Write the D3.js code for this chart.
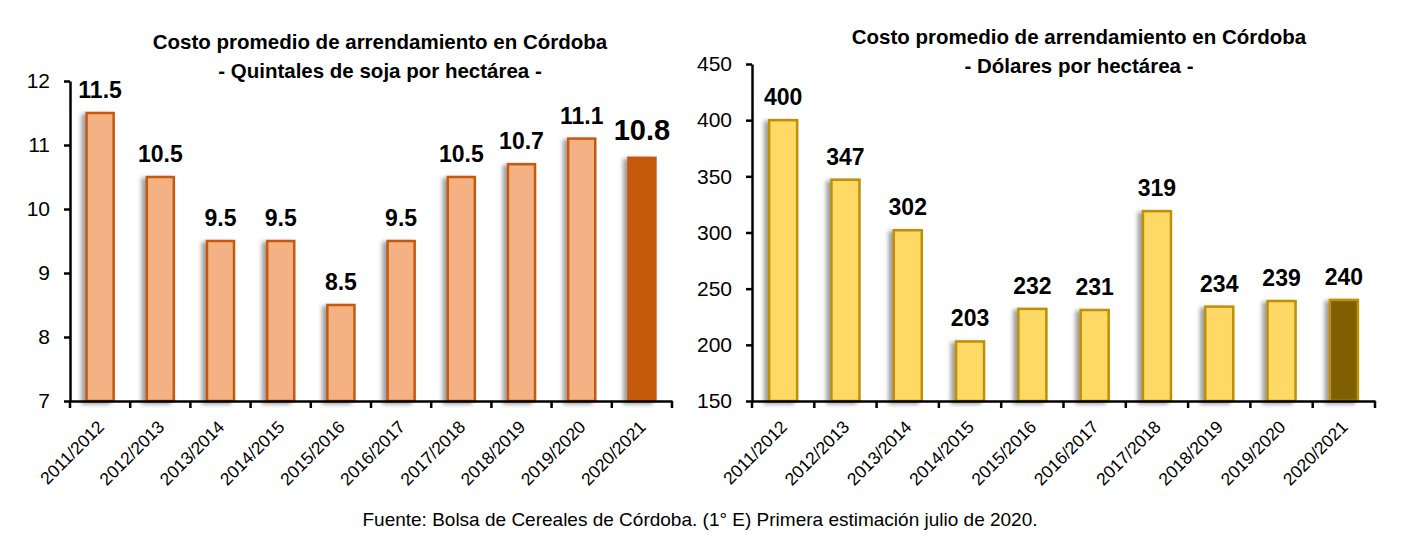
<!DOCTYPE html>
<html lang="es">
<head>
<meta charset="UTF-8">
<title>Costo promedio de arrendamiento en Córdoba</title>
<style>
    html, body { margin: 0; padding: 0; background: #fff; }
    svg { display: block; font-family: "Liberation Sans", Arial, sans-serif; }
</style>
</head>
<body>
<div id="wrapper"></div>
<script src="https://d3js.org/d3.v7.min.js"></script>
<script>
    // campañas (eje X)
    const seasons = ['2011/2012', '2012/2013', '2013/2014', '2014/2015', '2015/2016',
        '2016/2017', '2017/2018', '2018/2019', '2019/2020', '2020/2021'];
    // quintales de soja por hectárea
    const quintales = [11.5, 10.5, 9.5, 9.5, 8.5, 9.5, 10.5, 10.7, 11.1, 10.8];
    const quintalesLabels = ['11.5', '10.5', '9.5', '9.5', '8.5', '9.5', '10.5', '10.7', '11.1', '10.8'];
    const quintalesTicks = [7, 8, 9, 10, 11, 12];
    // dólares por hectárea
    const dolares = [400, 347, 302, 203, 232, 231, 319, 234, 239, 240];
    const dolaresTicks = [150, 200, 250, 300, 350, 400, 450];

    const titleLine1 = 'Costo promedio de arrendamiento en Córdoba';
    const fuente = 'Fuente: Bolsa de Cereales de Córdoba. (1° E) Primera estimación julio de 2020.';

    const W = 1411, H = 543;
    const svg = d3.select('#wrapper').append('svg')
        .attr('width', W).attr('height', H);
    svg.append('rect').attr('width', W).attr('height', H).attr('fill', '#fff');

    // sombra de las barras
    const defs = svg.append('defs');
    defs.append('filter').attr('id', 'shadow')
        .attr('x', '-50%').attr('y', '-10%').attr('width', '200%').attr('height', '120%')
        .append('feDropShadow')
        .attr('dx', -4).attr('dy', 2).attr('stdDeviation', 2.2)
        .attr('flood-color', '#7f7f7f').attr('flood-opacity', 0.75);

    function drawChart(opt) {
        const g = svg.append('g');

        const x = d3.scaleBand()
            .domain(seasons)
            .range([opt.left, opt.right])
            .paddingInner(0.55)
            .paddingOuter(0.275);

        const y = d3.scaleLinear()
            .domain(opt.domain)
            .range([opt.bottom, opt.top]);

        // titulo
        g.append('text')
            .attr('x', opt.titleX).attr('y', opt.titleY)
            .attr('text-anchor', 'middle')
            .style('font-size', '20.5px').style('font-weight', 'bold')
            .text(titleLine1);
        g.append('text')
            .attr('x', opt.titleX).attr('y', opt.titleY + 29)
            .attr('text-anchor', 'middle')
            .style('font-size', '20.5px').style('font-weight', 'bold')
            .text(opt.subtitle);

        // barras
        g.append('g').selectAll('rect')
            .data(opt.values)
            .join('rect')
            .attr('x', (d, i) => x(seasons[i]))
            .attr('y', d => y(d))
            .attr('width', x.bandwidth())
            .attr('height', d => opt.bottom - y(d))
            .attr('fill', (d, i) => i === opt.values.length - 1 ? opt.lastFill : opt.fill)
            .attr('stroke', (d, i) => i === opt.values.length - 1 ? opt.lastStroke : opt.stroke)
            .attr('stroke-width', 2.5)
            .attr('filter', 'url(#shadow)');

        // etiquetas de valores
        g.append('g').selectAll('text')
            .data(opt.values)
            .join('text')
            .attr('x', (d, i) => x(seasons[i]) + x.bandwidth() / 2)
            .attr('y', (d, i) => y(d) - (i === opt.values.length - 1 ? opt.lastGap : 15))
            .attr('text-anchor', 'middle')
            .style('font-weight', 'bold')
            .style('font-size', (d, i) => i === opt.values.length - 1 ? opt.lastSize : '23px')
            .text((d, i) => opt.labels[i]);

        // eje Y
        const yAxis = g.append('g')
            .attr('transform', `translate(${opt.left},0)`)
            .call(d3.axisLeft(y).tickValues(opt.ticks).tickFormat(d3.format('d'))
                .tickSizeOuter(0).tickSizeInner(6).tickPadding(14));
        yAxis.select('.domain').attr('stroke', '#000').attr('stroke-width', 2.5);
        yAxis.selectAll('.tick line').attr('stroke', '#000').attr('stroke-width', 2.5);
        yAxis.selectAll('.tick text')
            .style('font-family', '"Liberation Sans", Arial, sans-serif')
            .style('font-size', '21px').attr('fill', '#000');

        // eje X
        const xAxis = g.append('g')
            .attr('transform', `translate(0,${opt.bottom})`)
            .call(d3.axisBottom(x).tickSize(0));
        xAxis.select('.domain').attr('stroke', '#000').attr('stroke-width', 2.5);
        xAxis.selectAll('.tick text')
            .style('font-size', '17.5px').attr('fill', '#000')
            .attr('text-anchor', 'end')
            .attr('y', 0).attr('dy', 0)
            .attr('transform', 'translate(5,27) rotate(-45)');

        // marcas entre campañas
        const edges = seasons.map(s => x(s) - x.step() * x.paddingInner() / 2);
        edges.push(opt.right);
        g.append('g').selectAll('line')
            .data(edges)
            .join('line')
            .attr('x1', d => d).attr('x2', d => d)
            .attr('y1', opt.bottom).attr('y2', opt.bottom + 7)
            .attr('stroke', '#000').attr('stroke-width', 2.5);
    }

    drawChart({
        values: quintales, labels: quintalesLabels, ticks: quintalesTicks,
        domain: [7, 12], left: 70, right: 672, top: 81, bottom: 401,
        titleX: 380, titleY: 49, subtitle: '- Quintales de soja por hectárea -',
        fill: '#F4B183', stroke: '#C55A11', lastFill: '#C55A11', lastStroke: '#C55A11',
        lastSize: '29px', lastGap: 18
    });

    drawChart({
        values: dolares, labels: dolares.map(String), ticks: dolaresTicks,
        domain: [150, 450], left: 752, right: 1375, top: 64, bottom: 401,
        titleX: 1079, titleY: 44, subtitle: '- Dólares por hectárea -',
        fill: '#FFD966', stroke: '#BF9000', lastFill: '#7F6000', lastStroke: '#BF9000',
        lastSize: '23px', lastGap: 15
    });

    // fuente
    svg.append('text')
        .attr('x', 700).attr('y', 526)
        .attr('text-anchor', 'middle')
        .style('font-size', '19px')
        .text(fuente);
</script>
</body>
</html>
